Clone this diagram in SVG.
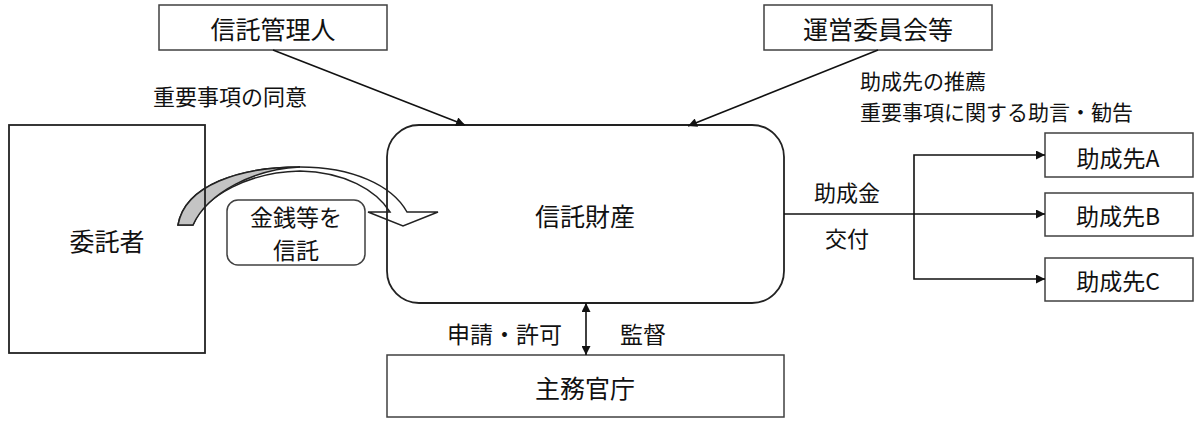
<svg xmlns="http://www.w3.org/2000/svg" width="1200" height="425" viewBox="0 0 1200 425">
<style>
.box{fill:#fff;stroke:#404040;stroke-width:1.5}
.open{fill:none;stroke:#222;stroke-width:1.8}
.t{font-family:"Noto Sans CJK JP","Noto Sans",sans-serif;fill:#111;text-anchor:middle;dominant-baseline:central}
.l{font-family:"Noto Sans CJK JP","Noto Sans",sans-serif;fill:#111;dominant-baseline:central}
.c{fill:none;stroke:#111;stroke-width:1.6}
</style>
<defs>
<marker id="ah" viewBox="0 0 10 10" refX="10" refY="5" markerWidth="11" markerHeight="9" markerUnits="userSpaceOnUse" orient="auto-start-reverse">
<path d="M0,0 L10,5 L0,10 Z" fill="#111"/>
</marker>
</defs>
<rect width="1200" height="425" fill="#fff"/>

<g id="trust-arrow">
<path d="M178,225 C185,185 240,167 300,167 C352,167 392,185 407,212 L438,212 L403,226 L368,212 L390,212 C376,190 345,172 300,171 C250,172 205,195 193,225 Z" fill="#fff" stroke="#222" stroke-width="1.5" stroke-linejoin="miter"/>
<path d="M178,225 C185,185 240,167 300,167 C255,169 208,192 193,225 Z" fill="#c4c4c4" stroke="#222" stroke-width="1.5"/>
</g>

<g id="itakusha">
<rect x="9" y="125" width="196" height="228" class="open"/>
<text x="107" y="240" class="t" font-size="25">委託者</text>
</g>

<g id="shintaku-zaisan">
<rect x="387" y="125" width="397" height="178" rx="32" ry="32" class="open"/>
<text x="585" y="215" class="t" font-size="25">信託財産</text>
</g>

<g id="kinsen">
<rect x="227" y="200" width="138" height="65" rx="11" ry="11" class="box" stroke="#222"/>
<text x="296" y="216" class="t" font-size="23">金銭等を</text>
<text x="296" y="249" class="t" font-size="23">信託</text>
</g>

<g id="kanrinin">
<rect x="159" y="5" width="228" height="45" class="box"/>
<text x="273" y="28" class="t" font-size="25">信託管理人</text>
</g>

<g id="uneiiinkai">
<rect x="764" y="5" width="228" height="45" class="box"/>
<text x="878" y="28" class="t" font-size="25">運営委員会等</text>
</g>

<g id="shumu">
<rect x="387" y="355" width="397" height="62" class="box"/>
<text x="585" y="387" class="t" font-size="25">主務官庁</text>
</g>

<g id="joseisaki-a">
<rect x="1045" y="133" width="148" height="44" class="box"/>
<text x="1118" y="157" class="t" font-size="23">助成先A</text>
</g>
<g id="joseisaki-b">
<rect x="1045" y="193" width="148" height="43" class="box"/>
<text x="1118" y="215" class="t" font-size="23">助成先B</text>
</g>
<g id="joseisaki-c">
<rect x="1045" y="258" width="148" height="43" class="box"/>
<text x="1118" y="280" class="t" font-size="23">助成先C</text>
</g>

<g id="connectors">
<line x1="273" y1="50" x2="465" y2="125" class="c" marker-end="url(#ah)"/>
<line x1="878" y1="50" x2="688" y2="126" class="c" marker-end="url(#ah)"/>
<line x1="784" y1="214" x2="1045" y2="214" class="c" marker-end="url(#ah)"/>
<polyline points="1045,155 914,155 914,279 1045,279" class="c" marker-start="url(#ah)" marker-end="url(#ah)"/>
<line x1="586" y1="303" x2="586" y2="355" class="c" marker-start="url(#ah)" marker-end="url(#ah)"/>
</g>

<g id="labels">
<text x="153" y="95" class="l" font-size="22">重要事項の同意</text>
<text x="860" y="80" class="l" font-size="21">助成先の推薦</text>
<text x="860" y="111" class="l" font-size="21">重要事項に関する助言・勧告</text>
<text x="847" y="191" class="t" font-size="22">助成金</text>
<text x="847" y="237" class="t" font-size="22">交付</text>
<text x="562" y="333" class="l" font-size="23" text-anchor="end">申請・許可</text>
<text x="643" y="333" class="t" font-size="23">監督</text>
</g>
</svg>
